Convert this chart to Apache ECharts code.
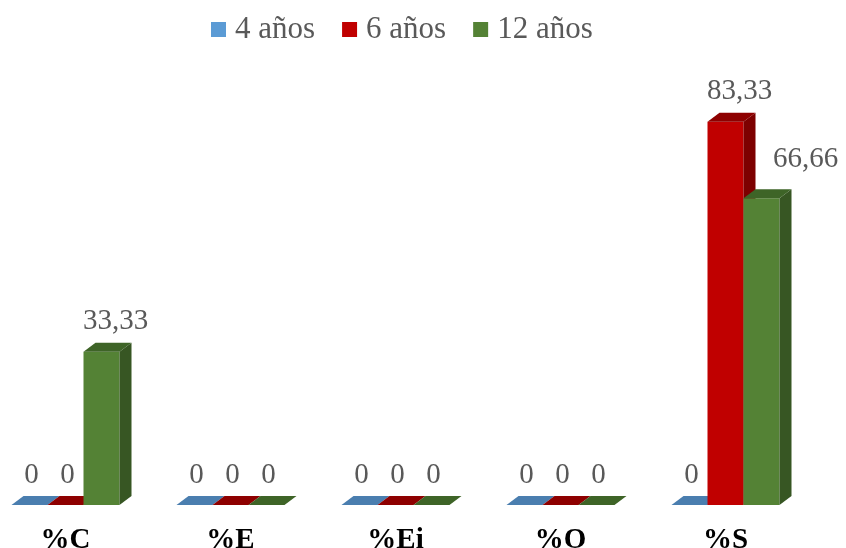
<!DOCTYPE html>
<html>
<head>
<meta charset="utf-8">
<script src="https://cdn.jsdelivr.net/npm/echarts@6/dist/echarts.min.js"></script>
<style>
  html, body { margin: 0; padding: 0; background: #fff; overflow: hidden; width: 846px; height: 548px; }
  #chart { position: absolute; left: -17px; top: 0; width: 863px; height: 548px; }
</style>
</head>
<body>
<div id="chart"></div>
<script>
// Categories and values per age group
const categories = ['%C', '%E', '%Ei', '%O', '%S'];
const seriesNames = ['4 años', '6 años', '12 años'];
const values4 = [0, 0, 0, 0, 0];
const values6 = [0, 0, 0, 0, 83.33];
const values12 = [33.33, 0, 0, 0, 66.66];

// Face colours: front, top, side
const palette = [
  { front: '#5B9BD5', top: '#4A7EAF', side: '#3F6C96' },
  { front: '#C00000', top: '#8E0000', side: '#7D0000' },
  { front: '#548235', top: '#3E6427', side: '#375623' }
];

// Extrusion of the pseudo-3D bars (pixels)
const DEPTH_X = 12;
const DEPTH_Y = 9;
const BAR_FRACTION = 36 / 165;
const SERIF = '"Liberation Serif", "Times New Roman", serif';

// Nudge for the one label that sits beside its bar
const labelNudge = { '2-4': [30, -9] };

function fmt(v) {
  return String(v).replace('.', ',');
}

function makeRender(sIdx) {
  const col = palette[sIdx];
  return function (params, api) {
    const cat = api.value(0);
    const val = api.value(1);
    const top = api.coord([cat, val]);
    const base = api.coord([cat, 0]);
    const band = api.size([1, 0])[0];
    const bw = band * BAR_FRACTION;
    const x0 = top[0] + (sIdx - 1.5) * bw;
    const x1 = x0 + bw;
    const yT = top[1];
    const yB = base[1];
    const children = [];
    if (yB - yT > 0.5) {
      children.push({
        type: 'rect',
        shape: { x: x0, y: yT, width: bw, height: yB - yT },
        style: { fill: col.front }
      });
      children.push({
        type: 'polygon',
        shape: { points: [[x1, yT], [x1 + DEPTH_X, yT - DEPTH_Y], [x1 + DEPTH_X, yB - DEPTH_Y], [x1, yB]] },
        style: { fill: col.side }
      });
    }
    children.push({
      type: 'polygon',
      shape: { points: [[x0, yT], [x1, yT], [x1 + DEPTH_X, yT - DEPTH_Y], [x0 + DEPTH_X, yT - DEPTH_Y]] },
      style: { fill: col.top }
    });
    const nudge = labelNudge[sIdx + '-' + cat] || [0, 0];
    const lx = x0 + bw / 2 + (val > 0 ? 14 : 2) + nudge[0];
    const ly = yT - DEPTH_Y - 21 + nudge[1];
    children.push({
      type: 'text',
      style: {
        text: fmt(val),
        x: lx,
        y: ly,
        align: 'center',
        verticalAlign: 'middle',
        fill: '#595959',
        font: '29px ' + SERIF
      }
    });
    return { type: 'group', children: children };
  };
}

const allValues = [values4, values6, values12];

const option = {
  animation: false,
  backgroundColor: '#ffffff',
  legend: {
    top: 9,
    left: 223,
    itemWidth: 15,
    itemHeight: 15,
    itemGap: 27,
    icon: 'rect',
    textStyle: {
      color: '#595959',
      fontSize: 31,
      fontFamily: SERIF,
      padding: [0, 0, 0, 4]
    },
    data: seriesNames
  },
  grid: { left: 0, right: 38, top: 45, bottom: 43, outerBoundsMode: 'none', containLabel: false },
  xAxis: {
    type: 'category',
    data: categories,
    axisLine: { show: false },
    axisTick: { show: false },
    axisLabel: {
      margin: 21,
      color: '#000000',
      fontWeight: 'bold',
      fontSize: 29,
      fontFamily: SERIF
    }
  },
  yAxis: {
    type: 'value',
    min: 0,
    max: 100,
    show: false,
    splitLine: { show: false }
  },
  series: allValues.map(function (vals, s) {
    return {
      type: 'custom',
      name: seriesNames[s],
      itemStyle: { color: palette[s].front },
      renderItem: makeRender(s),
      encode: { x: 0, y: 1 },
      data: vals.map(function (v, i) { return [i, v]; })
    };
  })
};

const chart = echarts.init(document.getElementById('chart'), null, { renderer: 'canvas' });
chart.setOption(option);
</script>
</body>
</html>
